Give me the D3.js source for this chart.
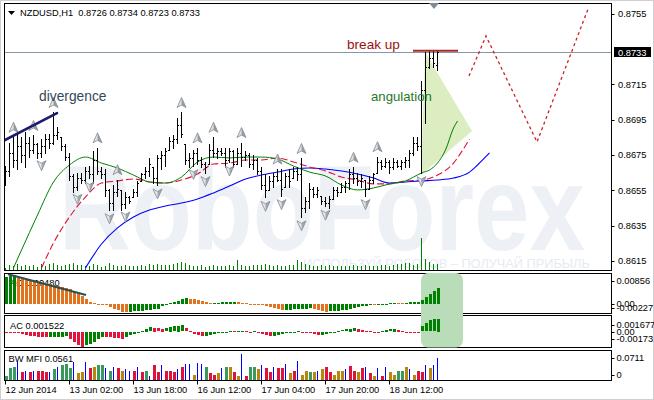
<!DOCTYPE html>
<html><head><meta charset="utf-8">
<script src="https://cdn.jsdelivr.net/npm/d3@7/dist/d3.min.js"></script>
<style>
html,body{margin:0;padding:0;background:#fff;}
svg{display:block;}
text{font-family:"Liberation Sans",Arial,sans-serif;}
</style></head><body>
<svg id="chart" width="654" height="400"></svg>
<script>
// ---------------- DATA ----------------
const symbolName = "NZDUSD,H1";
const lastOHLC = ["0.8726","0.8734","0.8723","0.8733"];
const lastPrice = 0.8733;

const barOpen = [.8660,.8666,.8676,.8672,.8680,.8675,.8682,.8678,.8681,.8676,
 .8680,.8684,.8682,.8686,.8685,.8680,.8674,.8663,.8657,.8662,
 .8661,.8666,.8664,.8672,.8666,.8664,.8655,.8648,.8654,.8655,
 .8647,.8651,.8651,.8654,.8660,.8664,.8666,.8668,.8662,.8673,
 .8675,.8678,.8683,.8684,.8692,.8681,.8672,.8673,.8676,.8672,
 .8670,.8670,.8678,.8676,.8677,.8676,.8672,.8677,.8670,.8676,
 .8674,.8675,.8670,.8672,.8666,.8658,.8655,.8660,.8663,.8661,
 .8657,.8663,.8662,.8666,.8664,.8645,.8649,.8656,.8653,.8652,
 .8649,.8648,.8650,.8655,.8654,.8657,.8659,.8664,.8662,.8660,
 .8661,.8656,.8661,.8665,.8671,.8669,.8671,.8668,.8671,.8669,
 .8671,.8672,.8676,.8682,.8680,.8712,.8725,.8730,.8726];
const barHigh = [.8669,.8682,.8685,.8687,.8685,.8688,.8685,.8686,.8682,.8684,
 .8687,.8687,.8699,.8691,.8685,.8681,.8676,.8664,.8665,.8665,
 .8668,.8669,.8677,.8679,.8668,.8667,.8656,.8658,.8661,.8655,
 .8654,.8652,.8656,.8660,.8665,.8668,.8673,.8668,.8675,.8677,
 .8679,.8685,.8686,.8696,.8699,.8681,.8676,.8678,.8679,.8674,
 .8671,.8681,.8685,.8679,.8679,.8679,.8679,.8678,.8679,.8682,
 .8677,.8676,.8675,.8673,.8668,.8664,.8663,.8665,.8667,.8667,
 .8665,.8667,.8668,.8668,.8673,.8651,.8659,.8657,.8657,.8652,
 .8651,.8652,.8657,.8657,.8659,.8660,.8667,.8668,.8665,.8664,
 .8661,.8663,.8665,.8674,.8672,.8673,.8672,.8673,.8672,.8672,
 .8674,.8678,.8685,.8685,.8717,.8733,.8734,.8734,.8734];
const barLow = [.8658,.8663,.8668,.8667,.8671,.8668,.8674,.8676,.8673,.8674,
 .8676,.8679,.8681,.8684,.8678,.8672,.8661,.8654,.8655,.8659,
 .8659,.8662,.8659,.8664,.8662,.8652,.8644,.8644,.8652,.8644,
 .8645,.8648,.8651,.8652,.8660,.8662,.8663,.8659,.8658,.8667,
 .8669,.8678,.8679,.8682,.8685,.8670,.8668,.8669,.8670,.8668,
 .8665,.8670,.8674,.8673,.8675,.8668,.8671,.8668,.8670,.8669,
 .8672,.8668,.8667,.8664,.8656,.8651,.8655,.8657,.8660,.8652,
 .8657,.8657,.8662,.8661,.8640,.8643,.8645,.8651,.8651,.8647,
 .8646,.8645,.8650,.8652,.8654,.8654,.8656,.8659,.8658,.8657,
 .8652,.8656,.8659,.8665,.8667,.8668,.8665,.8667,.8668,.8667,
 .8668,.8668,.8675,.8678,.8665,.8693,.8724,.8725,.8723];
const barClose = [.8666,.8676,.8672,.8680,.8675,.8682,.8678,.8681,.8676,.8680,
 .8684,.8682,.8686,.8688,.8680,.8674,.8663,.8657,.8662,.8661,
 .8666,.8664,.8672,.8666,.8664,.8655,.8648,.8654,.8656,.8647,
 .8651,.8649,.8654,.8659,.8664,.8666,.8670,.8662,.8673,.8675,
 .8677,.8683,.8684,.8692,.8687,.8672,.8673,.8676,.8672,.8670,
 .8668,.8678,.8676,.8677,.8676,.8672,.8677,.8670,.8676,.8674,
 .8675,.8670,.8672,.8666,.8658,.8655,.8660,.8663,.8661,.8656,
 .8663,.8660,.8666,.8664,.8645,.8649,.8656,.8653,.8655,.8649,
 .8648,.8650,.8655,.8654,.8657,.8659,.8664,.8662,.8660,.8662,
 .8656,.8661,.8664,.8671,.8669,.8671,.8668,.8671,.8669,.8671,
 .8672,.8676,.8682,.8680,.8712,.8725,.8730,.8727,.8733];
const tickVolume = [250,520,380,610,450,520,390,470,350,580,
 430,650,720,480,390,520,610,700,530,460,
 380,420,560,480,350,420,690,520,440,380,
 470,360,420,390,510,440,620,480,560,470,
 530,480,600,740,830,680,520,440,390,460,
 350,420,510,380,440,360,470,420,1000,520,
 430,380,460,490,550,610,480,420,520,380,
 430,470,490,1050,820,560,480,430,380,460,
 420,510,440,390,360,420,450,480,430,410,
 460,380,420,440,520,460,410,480,560,620,
 680,720,520,640,3200,1100,760,640,590];

const lipsIdx = [2,4,8,12,16,20,24,28,32,36,40,44,48,52,56,60,64,68,72,76,80,84,88,92,96,100,104,106,108,110,112,113];
const lipsVal = [.86111,.86212,.8641,.86597,.86693,.86738,.86704,.86676,.86636,.86597,.86591,.86625,.8671,.86738,.86733,.86738,.86738,.86727,.86687,.86653,.86631,.8658,.86552,.86563,.86586,.86603,.86648,.86665,.86704,.86778,.86902,.86942];
const teethIdx = [9,12,16,20,24,28,32,36,40,44,48,52,56,60,64,68,72,76,80,84,88,92,96,100,104,108,112,114,116];
const teethVal = [.86111,.86252,.86399,.86512,.86591,.86603,.86614,.86597,.86591,.86608,.86642,.86699,.86704,.86721,.86721,.86733,.8671,.86682,.86659,.86625,.86608,.86586,.86586,.86603,.86608,.86636,.86704,.86767,.8684];
const jawIdx = [20,24,28,32,36,40,44,48,52,56,60,64,68,72,76,80,84,88,92,96,100,104,108,112,116,118,121];
const jawVal = [.86111,.86246,.86337,.86399,.86438,.86461,.86478,.86501,.86535,.86574,.86614,.86636,.86653,.8667,.86676,.8667,.86659,.86642,.86619,.86591,.86597,.86603,.86608,.86619,.86653,.86693,.86761];

const fractalUpIdx = [2,7,12,23,28,44,48,52,59,68,74,87,93];
const fractalDownIdx = [9,18,21,26,30,38,47,50,56,65,69,74,80,90,104];

const aoBefore = 0.0098;
const aoValues = [.0100,.0104,.0107,.0096,.0093,.0092,.0089,.0088,.0082,.0079,
 .0075,.0074,.0071,.0068,.0064,.0061,.0054,.0046,.0039,.0029,
 .0018,.0007,.0003,.0001,-.0002,-.0004,-.0012,-.0018,-.0023,-.0028,
 -.0031,-.0029,-.0027,-.0026,-.0025,-.0024,-.0022,-.0020,-.0017,-.0008,
 -.0002,.0003,.0008,.0013,.0018,.0022,.0020,.0017,.0014,.0010,
 .0006,.0003,.0004,.0005,.0006,.0007,.0008,.0009,.0006,.0004,
 .0002,.0001,-.0001,-.0003,-.0004,-.0008,-.0012,-.0016,-.0020,-.0023,
 -.0022,-.0021,-.0020,-.0019,-.0018,-.0017,-.0016,-.0019,-.0022,-.0025,
 -.0028,-.0027,-.0026,-.0025,-.0023,-.0021,-.0018,-.0015,-.0012,-.0009,
 -.0006,-.0003,-.0004,-.0002,-.0001,.0001,.0003,.0004,.0003,.0002,
 .0004,.0006,.0008,.0009,.0014,.0026,.0038,.0050,.0058];
const acBefore = 0.0001;
const acValues = [0,-.0001,-.0002,-.0003,-.0005,-.0007,-.0009,-.0010,-.0011,-.0012,
 -.0013,-.00125,-.0012,-.00115,-.0011,-.00105,-.0017,-.0024,-.0031,-.0036,
 -.0032,-.0028,-.0023,-.0017,-.0011,-.0012,-.0013,-.0014,-.0015,-.0016,
 -.0012,-.0008,-.0005,-.0002,.0002,.0006,.0010,.0009,.0008,.0007,
 .0008,.0011,.0013,.0014,.0015,.0008,.0002,-.0004,-.0007,-.0010,
 -.0009,-.0007,-.0005,-.0003,-.0001,0,.0001,.00005,.0001,.0002,
 .0001,0,.0001,0,-.0004,-.0008,-.0010,-.0009,-.0007,-.0005,
 -.0003,-.0001,0,.0001,0,-.0001,-.0003,-.0005,-.0007,-.0006,
 -.0004,-.0002,0,.0002,.0003,.0005,.0006,.0008,.0007,.0004,
 .0002,.0001,0,-.0001,.0002,.0004,.0005,.0006,.0004,.0001,
 -.0001,-.0002,-.0003,-.00035,.0012,.0020,.0027,.0029,.0030];
const mfiValues = [.013,.036,.041,.059,.025,.029,.023,.029,.029,.029,
 .023,.026,.033,.041,.046,.049,.036,.058,.020,.025,
 .058,.039,.041,.046,.046,.039,.029,.041,.036,.029,
 .033,.029,.029,.041,.026,.029,.013,.046,.023,.046,
 .029,.029,.023,.033,.042,.052,.049,.016,.054,.052,
 .041,.020,.016,.020,.036,.042,.042,.026,.013,.082,
 .012,.041,.041,.033,.046,.038,.026,.042,.036,.036,
 .052,.020,.028,.059,.016,.029,.026,.025,.029,.033,
 .041,.023,.016,.027,.027,.033,.045,.027,.025,.036,
 .041,.020,.013,.038,.012,.041,.025,.016,.029,.029,
 .041,.033,.016,.029,.025,.047,.038,.047,.071];
// BW MFI signal: G = green, F = fade, K = fake, S = squat
const mfiSignal = ("GGGKSKSKSS"+"SKGKGGGKFF"+"KSFGGKGKSF"+"KKSKSGKSSK"+"SSSKSKKFKK"+
 "GSSFKGFSFK"+"SGGFKSSKSS"+"KFSKFFGFKF"+"SSFFFKSSFS"+"KSFKSKFFGG"+"FKFSSKFKK").split("");

const priceTicks = [0.8755,0.8715,0.8695,0.8675,0.8655,0.8635,0.8615];
const aoTicks = [0.00856,0,-0.00227], aoTickLabels = ["0.00856","0.00","-0.00227"];
const acTicks = [0.001677,0,-0.00173], acTickLabels = ["0.001677","0.00","-0.00173"];
const mfiTicks = [0.0711,0], mfiTickLabels = ["0.0711","0"];
const timeLabels = ["12 Jun 2014","13 Jun 02:00","13 Jun 18:00","16 Jun 12:00","17 Jun 04:00","17 Jun 20:00","18 Jun 12:00"];
const timeLabelIdx = [0,16,32,48,64,80,96];
const aoTitle = "AO 0.00480", acTitle = "AC 0.001522", mfiTitle = "BW MFI 0.0561";

// annotations (bar index, price)
const divergenceIdx = [0,13], divergenceVal = [0.86834,0.86987];
const divergenceLabel = {text:"divergence", idx:8.5, val:0.87055};
const breakUpIdx = [102,113.25], breakUpVal = 0.8734;
const breakUpLabel = {text:"break up", idx:85.5, val:0.87349};
const angulationIdx = [105,116.75,104], angulationVal = [0.87332,0.86886,0.86637];
const angulationLabel = {text:"angulation", idx:91.5, val:0.87055};
const forecastIdx = [116,120.25,133,145.75], forecastVal = [0.87196,0.87423,0.86823,0.87575];
const aoDivIdx = [0.75,20.25], aoDivVal = [0.01105,0.00335];
const highlightIdx = [104,114.5];
const watermark = "RoboForex";
const slogan = "ИСПОЛЬЗУЙ РОБОТОВ – ПОЛУЧАЙ ПРИБЫЛЬ";

// ---------------- CHART ----------------
const svg = d3.select("#chart");
const n = barHigh.length;
const L = 4.5, R = 611.5;
const panels = {main:{top:3.5,bottom:270.5}, ao:{top:273.5,bottom:313.5}, ac:{top:315.5,bottom:347.5}, mfi:{top:350.5,bottom:380.5}};
const xOf = d3.scaleLinear().domain([0,100]).range([5,405]);
const yP = d3.scaleLinear().domain([0.8615,0.8755]).range([261,13.5]);
const yAO = d3.scaleLinear().domain([0,0.00856]).range([304,281]);
const yAC = d3.scaleLinear().domain([0,0.001677]).range([331.5,324.5]);
const yMFI = d3.scaleLinear().domain([0,0.0711]).range([379.5,357.7]);
const yVol = d3.scaleLinear().domain([0,3200]).range([270,238]);
const FS = 9.3;

svg.append("rect").attr("width",654).attr("height",400).attr("fill","#fff");
svg.append("rect").attr("x",0.5).attr("y",0.5).attr("width",653).attr("height",399)
  .attr("fill","none").attr("stroke","#d0d0d0");

const defs = svg.append("defs");
Object.entries(panels).forEach(([k,p])=>{
  defs.append("clipPath").attr("id","clip-"+k).append("rect")
    .attr("x",L+0.5).attr("y",p.top+0.5).attr("width",R-L-1).attr("height",p.bottom-p.top-1);
});

// ---- main panel ----
const gMain = svg.append("g").attr("clip-path","url(#clip-main)");
function fittedText(g, str, x, y, width, size, weight, fill){
  const gg = g.append("g");
  const t = gg.append("text").text(str).attr("font-size",size).attr("font-weight",weight).attr("fill",fill);
  const w = t.node().getComputedTextLength();
  gg.attr("transform",`translate(${x},${y}) scale(${width/w},1)`);
}
fittedText(gMain, watermark, 59, 250, 526, 121, "bold", "#edf1f5");
fittedText(gMain, slogan, 303, 268, 287, 13, "normal", "#e6ebf1");

// angulation triangle
gMain.append("path")
  .attr("d", d3.line()(angulationIdx.map((d,i)=>[xOf(d),yP(angulationVal[i])])) + "Z")
  .attr("fill","#dcedc2");

// current price line
gMain.append("line").attr("x1",L).attr("x2",R)
  .attr("y1",Math.round(yP(lastPrice))+0.5).attr("y2",Math.round(yP(lastPrice))+0.5)
  .attr("stroke","#8797a8").attr("stroke-width",1);

// volumes
gMain.append("g").selectAll("rect").data(tickVolume).join("rect")
  .attr("x",(d,i)=>xOf(i)).attr("width",1)
  .attr("y",d=>Math.round(yVol(d))).attr("height",d=>270-Math.round(yVol(d)))
  .attr("fill","#008000").attr("shape-rendering","crispEdges");

// alligator
const lineGen = d3.line().x(d=>xOf(d[0])+0.5).y(d=>yP(d[1])).curve(d3.curveMonotoneX);
gMain.append("path").attr("d",lineGen(jawIdx.map((d,i)=>[d,jawVal[i]])))
  .attr("fill","none").attr("stroke","#0000ff").attr("stroke-width",1.1);
gMain.append("path").attr("d",lineGen(teethIdx.map((d,i)=>[d,teethVal[i]])))
  .attr("fill","none").attr("stroke","#dc143c").attr("stroke-width",1.1).attr("stroke-dasharray","7,3");
gMain.append("path").attr("d",lineGen(lipsIdx.map((d,i)=>[d,lipsVal[i]])))
  .attr("fill","none").attr("stroke","#008000").attr("stroke-width",1);

// OHLC bars
const bars = d3.range(n).map(i=>({i,o:barOpen[i],h:barHigh[i],l:barLow[i],c:barClose[i]}));
const gBars = gMain.append("g").attr("fill","#000").attr("shape-rendering","crispEdges");
bars.forEach(b=>{
  const x = xOf(b.i), yh = Math.round(yP(b.h)), yl = Math.round(yP(b.l));
  gBars.append("rect").attr("x",x).attr("y",yh).attr("width",1).attr("height",Math.max(1,yl-yh+1));
  gBars.append("rect").attr("x",x-1).attr("y",Math.round(yP(b.o))).attr("width",1).attr("height",1);
  gBars.append("rect").attr("x",x+1).attr("y",Math.round(yP(b.c))).attr("width",1).attr("height",1);
});

// fractals
function fractal(g, x, y, up){
  const s = up ? 1 : -1;
  const tip=[x,y-5*s], base=[x,y+2.5*s], lft=[x-4.5,y+5*s], rgt=[x+4.5,y+5*s];
  g.append("path").attr("d",`M${tip}L${base}L${lft}Z`).attr("fill",up?"#dde1e5":"#e4e7ea");
  g.append("path").attr("d",`M${tip}L${rgt}L${base}Z`).attr("fill",up?"#959ca3":"#a0a7ae");
  g.append("path").attr("d",`M${tip}L${rgt}L${base}L${lft}Z`).attr("fill","none")
    .attr("stroke","#848b93").attr("stroke-width",0.8).attr("stroke-linejoin","round");
}
const gFr = gMain.append("g");
fractalUpIdx.forEach(i=>fractal(gFr, xOf(i)+0.5, yP(barHigh[i])-10, true));
fractalDownIdx.forEach(i=>fractal(gFr, xOf(i)+0.5, yP(barLow[i])+9, false));

// annotations
gMain.append("path").attr("d",d3.line()(divergenceIdx.map((d,i)=>[xOf(d),yP(divergenceVal[i])])))
  .attr("stroke","#1c1c6e").attr("stroke-width",2.6).attr("stroke-linecap","round").attr("fill","none");
gMain.append("text").text(divergenceLabel.text).attr("x",xOf(divergenceLabel.idx)).attr("y",yP(divergenceLabel.val))
  .attr("font-size",13.8).attr("fill","#34495a");
gMain.append("text").text(breakUpLabel.text).attr("x",xOf(breakUpLabel.idx)).attr("y",yP(breakUpLabel.val))
  .attr("font-size",13.6).attr("fill","#9b1111");
gMain.append("line").attr("x1",xOf(breakUpIdx[0])).attr("x2",xOf(breakUpIdx[1]))
  .attr("y1",yP(breakUpVal)).attr("y2",yP(breakUpVal)).attr("stroke","#a52a2a").attr("stroke-width",2);
gMain.append("text").text(angulationLabel.text).attr("x",xOf(angulationLabel.idx)).attr("y",yP(angulationLabel.val))
  .attr("font-size",13.2).attr("fill","#1f7a1f");
gMain.append("path").attr("d",d3.line()(forecastIdx.map((d,i)=>[xOf(d),yP(forecastVal[i])])))
  .attr("fill","none").attr("stroke","#cc2222").attr("stroke-width",1.3).attr("stroke-dasharray","3,3");

// ---- panel frames ----
Object.values(panels).forEach(p=>{
  svg.append("rect").attr("x",L).attr("y",p.top).attr("width",R-L).attr("height",p.bottom-p.top)
    .attr("fill","none").attr("stroke","#000").attr("stroke-width",1);
});

// highlight box in AO/AC
svg.append("rect").attr("x",xOf(highlightIdx[0])).attr("y",273).attr("width",xOf(highlightIdx[1])-xOf(highlightIdx[0]))
  .attr("height",74.5).attr("rx",7).attr("fill","#b9dcb9");

// ---- AO ----
const gAO = svg.append("g").attr("clip-path","url(#clip-ao)");
gAO.append("text").text(aoTitle).attr("x",10).attr("y",285.5).attr("font-size",FS).attr("fill","#000");
aoValues.forEach((v,i)=>{
  const prev = i===0 ? aoBefore : aoValues[i-1];
  const y0 = yAO(0), y1 = yAO(v);
  let top = Math.round(Math.min(y0,y1)), h = Math.round(Math.abs(y1-y0));
  if (h<1){h=1;}
  gAO.append("rect").attr("x",xOf(i)).attr("width",3).attr("y",top).attr("height",h)
    .attr("fill", v>prev ? "#008000" : "#e2731e").attr("shape-rendering","crispEdges");
});
gAO.append("path").attr("d",d3.line()(aoDivIdx.map((d,i)=>[xOf(d),yAO(aoDivVal[i])])))
  .attr("stroke","#2f4f4f").attr("stroke-width",2.2).attr("fill","none");

// ---- AC ----
const gAC = svg.append("g").attr("clip-path","url(#clip-ac)");
gAC.append("text").text(acTitle).attr("x",10).attr("y",329).attr("font-size",FS).attr("fill","#000");
acValues.forEach((v,i)=>{
  const prev = i===0 ? acBefore : acValues[i-1];
  const y0 = yAC(0), y1 = yAC(v);
  let top = Math.round(Math.min(y0,y1)), h = Math.round(Math.abs(y1-y0));
  if (h<1){h=1;}
  gAC.append("rect").attr("x",xOf(i)).attr("width",3).attr("y",top).attr("height",h)
    .attr("fill", v>prev ? "#008000" : "#e0143c").attr("shape-rendering","crispEdges");
});

// ---- BW MFI ----
const gM = svg.append("g").attr("clip-path","url(#clip-mfi)");
gM.append("text").text(mfiTitle).attr("x",8.5).attr("y",362).attr("font-size",FS).attr("fill","#000");
const mfiColor = d3.scaleOrdinal().domain(["G","F","K","S"]).range(["#3a9a5e","#b8860b","#0000ff","#dc143c"]);
mfiValues.forEach((v,i)=>{
  const sig = mfiSignal[i];
  const top = Math.round(yMFI(v));
  gM.append("rect").attr("x",xOf(i)).attr("width",sig==="K"?1:3).attr("y",top).attr("height",380-top)
    .attr("fill",mfiColor(sig)).attr("shape-rendering","crispEdges");
});

// ---- right axis ----
const gAx = svg.append("g").attr("font-size",FS).attr("fill","#000");
priceTicks.forEach(v=>{
  const y = yP(v);
  gAx.append("line").attr("x1",R).attr("x2",R+3).attr("y1",Math.round(y)+0.5).attr("y2",Math.round(y)+0.5).attr("stroke","#000");
  gAx.append("text").text(v.toFixed(4)).attr("x",618).attr("y",y).attr("dy","0.36em");
});
{
  const y = yP(lastPrice);
  gAx.append("rect").attr("x",614).attr("y",Math.round(y)-5).attr("width",37).attr("height",10).attr("fill","#000");
  gAx.append("text").text(lastPrice.toFixed(4)).attr("x",618).attr("y",y).attr("dy","0.36em").attr("fill","#fff");
}
function sideLabels(ticks, labels, scale, p){
  ticks.forEach((v,k)=>{
    let y = scale(v);
    y = Math.min(y, p.bottom-6);
    y = Math.max(y, p.top+6);
    gAx.append("line").attr("x1",R).attr("x2",R+3).attr("y1",Math.round(y)+0.5).attr("y2",Math.round(y)+0.5).attr("stroke","#000");
    gAx.append("text").text(labels[k]).attr("x",616.5).attr("y",y).attr("dy","0.36em");
  });
}
sideLabels(aoTicks, aoTickLabels, yAO, panels.ao);
sideLabels(acTicks, acTickLabels, yAC, panels.ac);
sideLabels(mfiTicks, mfiTickLabels, yMFI, panels.mfi);

// ---- time axis ----
timeLabelIdx.forEach((idx,k)=>{
  const x = xOf(idx);
  gAx.append("line").attr("x1",x+0.5).attr("x2",x+0.5).attr("y1",380.5).attr("y2",384.5).attr("stroke","#000");
  gAx.append("text").text(timeLabels[k]).attr("x",x+0.5).attr("y",393);
});

// ---- header ----
svg.append("path").attr("d","M8,11L15,11L11.5,15Z").attr("fill","#000");
svg.append("text").text(symbolName+"  "+lastOHLC.join(" ")).attr("x",20).attr("y",16)
  .attr("font-size",FS).attr("fill","#000").style("white-space","pre");
// chart shift marker
{
  const x = xOf(107.25);
  svg.append("path").attr("d",`M${x-5},3L${x+5},3L${x},9Z`).attr("fill","#7d8b98");
}
</script>
</body></html>
